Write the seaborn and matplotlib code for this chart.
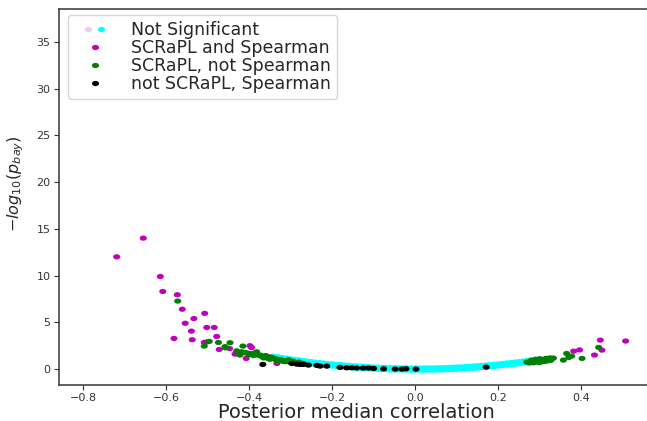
import matplotlib
matplotlib.use("Agg")
import matplotlib.pyplot as plt
import numpy as np
import pandas as pd
import seaborn as sns
from matplotlib.lines import Line2D
from matplotlib.legend_handler import HandlerTuple
from matplotlib.path import Path
from matplotlib.transforms import Affine2D

# ---------------- data ----------------
ns_x = [-0.34, -0.33, -0.32, -0.31, -0.30, -0.29, -0.28, -0.27, -0.26, -0.25,
        -0.24, -0.23, -0.22, -0.21, -0.20, -0.19, -0.18, -0.17, -0.16, -0.15,
        -0.14, -0.13, -0.12, -0.11, -0.10, -0.09, -0.08, -0.07, -0.06, -0.05,
        -0.04, -0.03, -0.02, -0.01, 0.00, 0.01, 0.02, 0.03, 0.04, 0.05,
        0.06, 0.07, 0.08, 0.09, 0.10, 0.11, 0.12, 0.13, 0.14, 0.15,
        0.16, 0.17, 0.18, 0.19, 0.20, 0.21, 0.22, 0.23, 0.24, 0.25,
        0.26, 0.27, 0.28, 0.29, 0.30]
ns_y_hi = [1.37, 1.31, 1.24, 1.17, 1.10, 1.04, 0.98, 0.92, 0.86, 0.80,
           0.75, 0.70, 0.65, 0.60, 0.56, 0.52, 0.48, 0.44, 0.40, 0.37,
           0.34, 0.31, 0.28, 0.25, 0.23, 0.21, 0.19, 0.17, 0.16, 0.15,
           0.14, 0.13, 0.13, 0.12, 0.12, 0.12, 0.12, 0.13, 0.13, 0.14,
           0.15, 0.16, 0.18, 0.20, 0.22, 0.24, 0.27, 0.30, 0.33, 0.36,
           0.40, 0.44, 0.47, 0.52, 0.56, 0.60, 0.65, 0.70, 0.75, 0.80,
           0.86, 0.92, 0.98, 1.04, 1.10]
ns_y_lo = [1.13, 1.07, 1.00, 0.93, 0.86, 0.80, 0.74, 0.68, 0.62, 0.56,
           0.51, 0.46, 0.41, 0.36, 0.32, 0.28, 0.24, 0.20, 0.16, 0.13,
           0.10, 0.07, 0.04, 0.01, -0.01, -0.03, -0.05, -0.07, -0.08, -0.09,
           -0.10, -0.11, -0.11, -0.12, -0.12, -0.12, -0.12, -0.11, -0.11, -0.10,
           -0.09, -0.08, -0.06, -0.04, -0.02, 0.00, 0.03, 0.06, 0.09, 0.12,
           0.16, 0.20, 0.23, 0.28, 0.32, 0.36, 0.41, 0.46, 0.51, 0.56,
           0.62, 0.68, 0.74, 0.80, 0.86]

both_x = [-0.719, -0.655, -0.614, -0.608, -0.573, -0.561, -0.507, -0.533, -0.554,
          -0.502, -0.484, -0.539, -0.478, -0.581, -0.537, -0.508, -0.502, -0.447,
          -0.472, -0.398, -0.394, -0.434, -0.407, -0.349, -0.333,
          0.446, 0.507, 0.450, 0.432, 0.396, 0.382]
both_y = [12.0, 14.0, 9.9, 8.3, 7.95, 6.4, 5.96, 5.4, 4.9,
          4.45, 4.45, 4.06, 3.49, 3.28, 3.14, 2.85, 2.9, 2.2,
          2.1, 2.5, 2.3, 1.6, 1.14, 1.3, 0.6,
          3.1, 3.0, 2.03, 1.5, 2.05, 1.92]

scrapl_x = [-0.572, -0.496, -0.474, -0.446, -0.508, -0.457, -0.415, -0.422, -0.406,
            -0.458, -0.418, -0.398, -0.382, -0.373, -0.357, -0.341, -0.325, -0.309,
            -0.293, -0.277, -0.269, -0.390, -0.365, -0.350, -0.335, -0.318, -0.300,
            -0.285, -0.430, -0.410, -0.400, -0.388, -0.380, -0.370, -0.360, -0.355,
            -0.345, -0.335, -0.330, -0.320, -0.310, -0.305, -0.295, -0.290, -0.280,
            -0.275,
            0.269, 0.280, 0.290, 0.300, 0.310, 0.320, 0.333, 0.275, 0.295,
            0.315, 0.327, 0.365, 0.377, 0.357, 0.402, 0.442, 0.370,
            0.280, 0.290, 0.300, 0.310, 0.320, 0.300, 0.285, 0.325, 0.315]
scrapl_y = [7.27, 2.96, 2.85, 2.82, 2.46, 2.28, 2.46, 1.5, 1.74,
            2.4, 1.85, 1.67, 1.85, 1.5, 1.32, 1.14, 1.03, 0.89,
            0.78, 0.67, 0.6, 1.45, 1.2, 1.05, 0.95, 0.82, 0.72,
            0.62, 1.95, 1.75, 1.55, 1.7, 1.5, 1.35, 1.45, 1.15,
            1.25, 1.1, 0.9, 0.95, 0.8, 1.0, 0.85, 0.7, 0.75,
            0.58,
            0.75, 0.8, 0.88, 0.95, 1.0, 1.1, 1.18, 0.65, 0.75,
            0.85, 0.95, 1.67, 1.39, 0.96, 1.14, 2.32, 1.25,
            0.95, 1.05, 1.1, 0.82, 0.9, 0.7, 0.68, 1.2, 1.15]

spear_x = [-0.367, -0.297, -0.285, -0.277, -0.269, -0.257, -0.237, -0.229, -0.213,
           -0.181, -0.165, -0.153, -0.141, -0.125, -0.112, -0.100, -0.076, -0.048,
           -0.032, -0.022, 0.002, 0.171]
spear_y = [0.5, 0.6, 0.53, 0.5, 0.5, 0.43, 0.4, 0.32, 0.32,
           0.18, 0.14, 0.14, 0.11, 0.11, 0.11, 0.07, 0.03, 0.0,
           0.0, 0.03, 0.0, 0.21]

labels = ["Not Significant", "SCRaPL and Spearman", "SCRaPL, not Spearman",
          "not SCRaPL, Spearman"]
colors = ["#00ffff", "#bf00bf", "#008000", "#000000"]
legend_pink = "#f5c4f0"
x_ticks = [-0.8, -0.6, -0.4, -0.2, 0.0, 0.2, 0.4]
y_ticks = [0, 5, 10, 15, 20, 25, 30, 35]

# ---------------- table ----------------
df = pd.concat([
    pd.DataFrame({"x": ns_x + ns_x, "y": ns_y_hi + ns_y_lo, "g": labels[0]}),
    pd.DataFrame({"x": both_x, "y": both_y, "g": labels[1]}),
    pd.DataFrame({"x": scrapl_x, "y": scrapl_y, "g": labels[2]}),
    pd.DataFrame({"x": spear_x, "y": spear_y, "g": labels[3]}),
], ignore_index=True)

sns.set_style("ticks", {"axes.edgecolor": "#333333",
                        "xtick.color": "#333333", "ytick.color": "#333333"})
plt.rcParams["font.family"] = ["DejaVu Sans"]

ell = Affine2D().scale(1.35, 1.0).transform_path(Path.unit_circle())

fig = plt.figure(figsize=(6.47, 4.21), dpi=100)
ax = fig.add_axes([59 / 647, 36 / 421, (653 - 59) / 647, 376 / 421])

sns.scatterplot(data=df, x="x", y="y", hue="g", hue_order=labels,
                palette=dict(zip(labels, colors)), marker=ell, s=26,
                linewidth=0, legend=False, ax=ax)

ax.set_xlim(-0.858, 0.573)
ax.set_ylim(-1.7, 38.5)
ax.set_xticks(x_ticks)
ax.set_xticklabels([f"{t:.1f}".replace("-", "\u2212") for t in x_ticks])
ax.set_yticks(y_ticks)
ax.tick_params(labelsize=8, length=3.5, width=0.8, colors="#333333", pad=2.5)
ax.spines["right"].set_visible(False)
for s in ["left", "top", "bottom"]:
    ax.spines[s].set_linewidth(1.2)
    ax.spines[s].set_color("#444444")

ax.set_xlabel("Posterior median correlation", fontsize=14, labelpad=-0.5)
ax.set_ylabel(r"$-log_{10}(p_{bay})$", fontsize=11.5, labelpad=6)
ax.yaxis.set_label_coords(-0.055, 0.535)

def mk(c):
    return Line2D([], [], ls="", marker=ell, markersize=5.1, markerfacecolor=c,
                  markeredgewidth=0)

handles = [(mk(legend_pink), mk(colors[0]))] + [mk(c) for c in colors[1:]]
leg = ax.legend(handles, labels, loc="upper left", bbox_to_anchor=(0.015, 0.985),
                fontsize=12.5, labelspacing=0.0, handlelength=2.4,
                handletextpad=0.9, borderpad=0.35, borderaxespad=0.0,
                handler_map={tuple: HandlerTuple(ndivide=None, pad=-0.9)},
                frameon=True)
leg.get_frame().set_edgecolor("#cccccc")

fig.savefig("out.png", dpi=100)
